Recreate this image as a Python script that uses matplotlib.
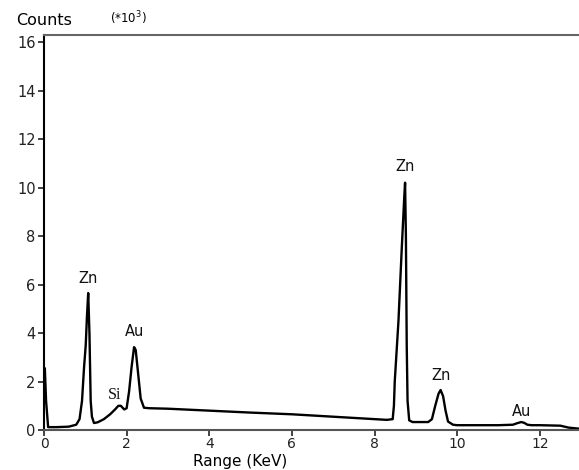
import numpy as np
import matplotlib.pyplot as plt

# EDS spectrum (energy in keV, counts in thousands)
energy = [0.00, 0.02, 0.05, 0.10, 0.30, 0.60, 0.78, 0.86, 0.92, 0.97, 1.01, 1.04, 1.07,
          1.10, 1.13, 1.16, 1.21, 1.30, 1.45, 1.60, 1.72, 1.80, 1.86, 1.94, 2.00, 2.06,
          2.12, 2.18, 2.22, 2.28, 2.34, 2.42, 2.55, 3.00, 4.00, 5.00, 6.00, 7.00, 8.00,
          8.30, 8.44, 8.47, 8.49, 8.58, 8.66, 8.72, 8.74, 8.76, 8.78, 8.80, 8.84, 8.92,
          9.10, 9.30, 9.39, 9.47, 9.55, 9.60, 9.66, 9.72, 9.78, 9.90, 10.00, 11.00, 11.35,
          11.45, 11.55, 11.62, 11.70, 11.80, 12.00, 12.50, 12.70, 12.93]
counts = [2.0, 2.55, 1.2, 0.12, 0.12, 0.14, 0.22, 0.45, 1.2, 2.6, 3.5, 4.7, 5.65,
          4.0, 1.2, 0.55, 0.29, 0.32, 0.45, 0.65, 0.85, 1.0, 1.0, 0.85, 0.9, 1.6,
          2.6, 3.42, 3.3, 2.3, 1.3, 0.92, 0.9, 0.88, 0.8, 0.72, 0.65, 0.55, 0.45,
          0.42, 0.45, 1.0, 2.0, 4.5, 7.5, 9.6, 10.2, 8.0, 3.5, 1.2, 0.4, 0.33,
          0.33, 0.33, 0.45, 1.0, 1.5, 1.65, 1.4, 0.8, 0.35, 0.22, 0.2, 0.2, 0.22,
          0.28, 0.33, 0.3, 0.22, 0.2, 0.2, 0.18, 0.1, 0.06]

peak_names = ["Zn", "Au", "Zn", "Zn", "Au"]
peak_x = [1.07, 2.2, 8.73, 9.6, 11.57]
peak_y = [5.95, 3.75, 10.55, 1.95, 0.45]

xticks = [0, 2, 4, 6, 8, 10, 12]
yticks = [0, 2, 4, 6, 8, 10, 12, 14, 16]

fig = plt.figure(figsize=(5.79, 4.70), dpi=100)
ax = fig.add_axes([0.0760, 0.085, 0.9240, 0.8405])

ax.plot(energy, counts, color="black", linewidth=1.7)

for name, x, y in zip(peak_names, peak_x, peak_y):
    ax.text(x, y, name, ha="center", va="bottom", fontsize=10.5, color="#111111")
ax.text(1.72, 1.1, "Si", ha="center", va="bottom", fontsize=11.5,
        family="Liberation Serif", color="#111111")

ax.set_xlim(0, 12.95)
ax.set_ylim(0, 16.29)
ax.set_xticks(xticks)
ax.set_yticks(yticks)
ax.tick_params(axis="y", labelsize=10.5, length=4, width=1.2, colors="#222222", pad=2)
ax.tick_params(axis="x", labelsize=10, length=4, width=1.2, colors="#222222", pad=1)

ax.spines["right"].set_visible(False)
ax.spines["left"].set_linewidth(1.5)
ax.spines["bottom"].set_linewidth(1.5)
ax.spines["bottom"].set_color("#555555")
ax.spines["top"].set_linewidth(1.5)
ax.spines["top"].set_color("#666666")

fig.text(0.027, 0.94, "Counts", fontsize=11.5, ha="left", va="bottom")
fig.text(0.19, 0.942, r"(*10$^3$)", fontsize=8.5, ha="left", va="bottom")
fig.text(0.415, 0.002, "Range (KeV)", fontsize=11, ha="center", va="bottom")

fig.savefig("out.png", dpi=100)
